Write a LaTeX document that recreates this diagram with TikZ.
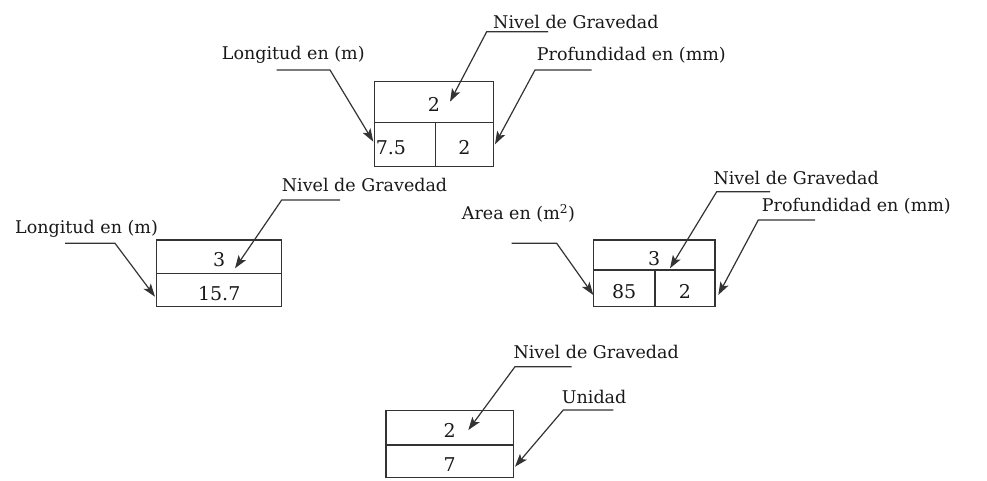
\documentclass[tikz,border=0pt]{standalone}
\usepackage{fontspec}
\setmainfont{DejaVu Serif}
\usetikzlibrary{arrows.meta}
\begin{document}
\begin{tikzpicture}[x=1pt,y=-1pt,
 lbl/.style={anchor=west, inner sep=0pt, text=black!90, font=\fontsize{17.5}{19}\selectfont},
 cell/.style={draw=black!80, line width=1.2pt, inner sep=0pt, text=black!90, text height=20pt, text depth=0pt, font=\fontsize{19}{21}\selectfont},
 ptr/.style={draw=black!80, line width=1.2pt, -{Stealth[length=13pt,width=9pt,inset=3pt]}},
]
\useasboundingbox (0,0) rectangle (987,481);

% ---- box 1
\node[cell, minimum width=119pt, minimum height=40.6pt] (b1t) at (433.8,102) {2};
\node[cell, minimum width=61pt, minimum height=44.4pt, text width=58pt, inner xsep=1.5pt, align=left] (b1l) at (404.8,144.5) {7.5};
\node[cell, minimum width=58pt, minimum height=44.4pt] (b1r) at (464.3,144.5) {2};

\node[lbl] (l1) at (493,22) {Nivel de Gravedad};
\coordinate (u1a) at (486.7,31.7); \coordinate (u1b) at (548,31.7); \coordinate (t1) at (450,101.7);
\draw[ptr] (u1b) -- (u1a) -- (t1);

\node[lbl] (l2) at (221.7,55) {Longitud en (m)};
\coordinate (u2a) at (276.7,70); \coordinate (u2b) at (330,70); \coordinate (t2) at (373.3,141.7);
\draw[ptr] (u2a) -- (u2b) -- (t2);

\node[lbl] (l3) at (536.7,55) {Profundidad en (mm)};
\coordinate (u3a) at (535,70); \coordinate (u3b) at (591.7,70); \coordinate (t3) at (495,144.3);
\draw[ptr] (u3b) -- (u3a) -- (t3);

% ---- box 2
\node[cell, minimum width=125pt, minimum height=33.3pt] (b2t) at (219.2,256.7) {3};
\node[cell, minimum width=125pt, minimum height=33.4pt] (b2b) at (219.2,290) {15.7};

\node[lbl] (l4) at (281.7,185) {Nivel de Gravedad};
\coordinate (u4a) at (281.7,200); \coordinate (u4b) at (340,200); \coordinate (t4) at (235,268.3);
\draw[ptr] (u4b) -- (u4a) -- (t4);

\node[lbl] (l5) at (15,228.3) {Longitud en (m)};
\coordinate (u5a) at (65,243.3); \coordinate (u5b) at (115,243.3); \coordinate (t5) at (155,296.7);
\draw[ptr] (u5a) -- (u5b) -- (t5);

% ---- box 3
\node[cell, minimum width=121.7pt, minimum height=30pt] (b3t) at (654.2,255) {3};
\node[cell, minimum width=61.7pt, minimum height=36.7pt] (b3l) at (624.2,288.3) {85};
\node[cell, minimum width=60pt, minimum height=36.7pt] (b3r) at (685,288.3) {2};

\node[lbl] (l6) at (713.3,178.3) {Nivel de Gravedad};
\coordinate (u6a) at (716.7,191.7); \coordinate (u6b) at (770,191.7); \coordinate (t6) at (670,268.3);
\draw[ptr] (u6b) -- (u6a) -- (t6);

\node[lbl] (l7) at (761.7,206.7) {Profundidad en (mm)};
\coordinate (u7a) at (758.3,220); \coordinate (u7b) at (815,220); \coordinate (t7) at (718.3,295);
\draw[ptr] (u7b) -- (u7a) -- (t7);

\node[lbl] (l8) at (461.7,213.3) {Area en (m\textsuperscript{2})};
\coordinate (u8a) at (511.7,243.3); \coordinate (u8b) at (556.7,243.3); \coordinate (t8) at (593.3,295);
\draw[ptr] (u8a) -- (u8b) -- (t8);

% ---- box 4
\node[cell, minimum width=127.3pt, minimum height=34.3pt] (b4t) at (449.7,427.9) {2};
\node[cell, minimum width=127.3pt, minimum height=32.3pt] (b4b) at (449.7,461.2) {7};

\node[lbl] (l9) at (513.3,351.7) {Nivel de Gravedad};
\coordinate (u9a) at (515,366.7); \coordinate (u9b) at (571.7,366.7); \coordinate (t9) at (468.3,430);
\draw[ptr] (u9b) -- (u9a) -- (t9);

\node[lbl] (l10) at (561.7,396.7) {Unidad};
\coordinate (u10a) at (563.3,410); \coordinate (u10b) at (613.3,410); \coordinate (t10) at (515,466.7);
\draw[ptr] (u10b) -- (u10a) -- (t10);
\end{tikzpicture}
\end{document}
